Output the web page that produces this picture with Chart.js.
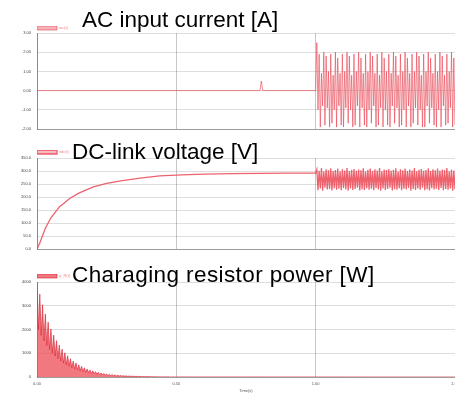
<!DOCTYPE html>
<html>
<head>
<meta charset="utf-8">
<script src="https://cdn.jsdelivr.net/npm/chart.js@4.4.0/dist/chart.umd.min.js"></script>
<style>
  body { margin: 0; background: #fff; }
  #wrap { position: relative; width: 455px; height: 400px; overflow: hidden; }
  .panel { position: absolute; left: 0; width: 455px; }
  .ttl { position: absolute; font: 22.5px "Liberation Sans", Arial, sans-serif; line-height: 22px; color: #000; white-space: nowrap; z-index: 2; }
</style>
</head>
<body>
<div id="wrap">
  <div class="panel" style="top:0;height:134px"><canvas id="acChart"></canvas></div>
  <div class="panel" style="top:134px;height:120px"><canvas id="dcChart"></canvas></div>
  <div class="panel" style="top:254px;height:146px"><canvas id="pwrChart"></canvas></div>
  <div class="ttl" style="left:82px;top:9px">AC input current [A]</div>
  <div class="ttl" style="left:72px;top:141px">DC-link voltage [V]</div>
  <div class="ttl" style="left:72px;top:264px;letter-spacing:0.4px">Charaging resistor power [W]</div>
</div>
<script>
// time axis (s)
const xTicks = [0, 0.5, 1.0, 1.5];

// AC input current [A]: flat until the grid switch at 1.0 s, then the switching waveform
const acTimes = [0, 0.80, 0.805, 0.81, 1.0];
const acValues = [0, 0, 0.5, 0, 0];
const acOscStep = 0.5 / 120;
const acOsc = [
  2.5, -1.0, 1.9, -1.9, 0.9, -0.8, 2.0, -1.8, 1.8, -0.9, 1.0, -1.9, 1.9, -1.7, 0.8, -1.0,
  2.0, -1.9, 1.7, -0.8, 0.9, -1.8, 1.9, -1.9, 1.0, -0.9, 2.0, -1.7, 1.8, -1.0, 0.8, -1.9,
  1.9, -1.8, 1.0, -0.8, 2.0, -1.9, 1.7, -0.9, 0.9, -1.8, 1.9, -1.9, 1.0, -1.0, 2.0, -1.7,
  1.8, -0.8, 0.9, -1.9, 1.9, -1.8, 0.8, -0.9, 2.0, -1.9, 1.7, -1.0, 1.0, -1.8, 1.9, -1.9,
  0.9, -0.8, 2.0, -1.7, 1.8, -0.9, 0.8, -1.9, 1.9, -1.8, 1.0, -1.0, 2.0, -1.9, 1.7, -0.8,
  0.9, -1.9, 1.9, -1.7, 1.0, -0.9, 2.0, -1.8, 1.8, -1.0, 0.8, -1.9, 1.9, -1.9, 1.0, -0.8,
  2.0, -1.7, 1.7, -0.9, 0.9, -1.8, 1.9, -1.9,
  1.0, -1.0, 2.0, -1.9, 1.8, -0.8, 0.8, -1.8, 1.9, -1.7, 1.0, -0.9, 2.0, -1.9, 1.7, -1.8];

// DC-link voltage [V]: charging curve, then ripple band after 1.0 s
const dcTimes = [0, 0.01, 0.03, 0.05, 0.08, 0.12, 0.15, 0.2, 0.25, 0.3, 0.37, 0.44, 0.52, 0.6, 0.7, 0.8, 0.9, 1.0];
const dcValues = [0, 23, 80, 120, 162, 196, 215, 238, 252, 262, 273, 281, 285, 288, 290, 291, 292, 292];
const dcOscStep = 0.5 / 120;
const dcOsc = [
  306, 226, 301, 233, 311, 224, 298, 236, 307, 229, 303, 231, 310, 225, 300, 234,
  304, 228, 309, 232, 299, 226, 307, 235, 302, 229, 311, 224, 300, 233, 305, 227,
  308, 231, 301, 236, 306, 225, 303, 230, 310, 227, 298, 234, 305, 228, 309, 232,
  300, 226, 307, 235, 302, 229, 311, 224, 299, 233, 306, 227, 304, 231, 308, 236,
  301, 225, 305, 230, 310, 228, 298, 234, 307, 226, 303, 232, 309, 229, 300, 235,
  306, 224, 302, 231, 311, 227, 299, 233, 305, 228, 308, 236, 301, 226, 304, 230,
  310, 225, 300, 234, 307, 229, 303, 232,
  309, 227, 301, 235, 306, 226, 304, 231, 311, 228, 299, 233, 305, 224, 302, 230];

// Charging resistor power [W]: pulse peaks every 10 ms, dips in between
const pwrStep = 0.01;
const pwrPeaks = [4000, 3490, 3040, 2650, 2310, 2020, 1760, 1530, 1340, 1170, 1020, 890, 770, 670, 590, 510,
  450, 390, 340, 300, 260, 225, 196, 171, 150, 130, 114, 99, 87, 76, 66, 57, 50, 44, 38, 33,
  29, 25, 22, 19, 17, 15, 13, 11, 10, 8, 7, 6, 5, 5, 4];
const pwrLows = [2000, 1750, 1520, 1330, 1160, 1010, 880, 770, 670, 585, 510, 445, 385, 335, 295, 255,
  225, 195, 170, 150, 130, 113, 98, 86, 75, 65, 57, 50, 44, 38, 33, 29, 25, 22, 19, 17,
  15, 13, 11, 10, 8, 7, 6, 5, 5, 4, 4, 3, 3, 2];
const pwrEnd = 0;

const gridColor = 'rgba(0,0,0,0.13)';
const tickFont = { family: 'Liberation Sans', size: 4 };

// move the small legend down next to the plot, like in the source figure
const legendNudge = {
  id: 'legendNudge',
  afterLayout(chart, args, opts) {
    if (chart.legend) {
      chart.legend.top += opts.shift;
      chart.legend.bottom += opts.shift;
    }
  }
};

function baseOptions(yMin, yMax, yStep, fmt, showX, padTop, padBottom, shift) {
  return {
    responsive: true,
    maintainAspectRatio: false,
    animation: false,
    layout: { padding: { top: padTop, bottom: padBottom, left: 0, right: 0 } },
    elements: { point: { radius: 0 }, line: { tension: 0 } },
    plugins: {
      legend: {
        position: 'top', align: 'start', fullSize: false,
        labels: { boxWidth: 20, boxHeight: 4, padding: 0, color: '#e88', font: tickFont }
      },
      legendNudge: { shift: shift },
      tooltip: { enabled: false }
    },
    scales: {
      x: {
        type: 'linear', min: 0, max: 1.5,
        afterBuildTicks: s => { s.ticks = xTicks.map(v => ({ value: v })); },
        afterFit: s => { s.paddingLeft = 0; s.paddingRight = 0; if (showX) s.height = 16; },
        ticks: { display: showX, color: '#555', font: tickFont, padding: 4, maxRotation: 0,
          callback: v => v.toFixed(2) },
        grid: { color: 'rgba(0,0,0,0.22)', drawTicks: false },
        border: { color: 'rgba(0,0,0,0.3)' },
        title: { display: showX, text: 'Time(s)', color: '#555', font: tickFont, padding: { top: 2, bottom: 0 } }
      },
      y: {
        min: yMin, max: yMax,
        afterFit: s => { s.width = 37; s.paddingTop = 0; s.paddingBottom = 0; },
        ticks: { stepSize: yStep, color: '#444', font: tickFont, padding: 6, callback: fmt },
        grid: { color: gridColor, drawTicks: false },
        border: { color: 'rgba(0,0,0,0.3)' }
      }
    }
  };
}

// AC current
const acPoints = acTimes.map((t, i) => ({ x: t, y: acValues[i] }))
  .concat(acOsc.map((v, i) => ({ x: 1.0 + (i + 1) * acOscStep, y: v })));

new Chart(document.getElementById('acChart'), {
  type: 'line',
  data: {
    datasets: [{
      label: 'iac(t)',
      data: acPoints,
      borderColor: 'rgba(232,70,85,0.7)',
      backgroundColor: 'rgba(240,130,140,0.6)',
      borderWidth: 0.9,
      fill: false
    }]
  },
  options: baseOptions(-2, 3, 1, v => v.toFixed(2), false, 19, 5, 7),
  plugins: [legendNudge]
});

// DC-link voltage
const dcPoints = dcTimes.map((t, i) => ({ x: t, y: dcValues[i] }))
  .concat(dcOsc.map((v, i) => ({ x: 1.0 + (i + 1) * dcOscStep, y: v })));

new Chart(document.getElementById('dcChart'), {
  type: 'line',
  data: {
    datasets: [{
      label: 'vdc(t)',
      data: dcPoints,
      borderColor: 'rgba(235,70,85,0.85)',
      backgroundColor: 'rgba(240,140,150,0.6)',
      borderWidth: 1.3,
      fill: false
    }]
  },
  options: baseOptions(0, 350, 50, v => v.toFixed(1), false, 10, 5, 6),
  plugins: [legendNudge]
});

// Charging resistor power
const pwrPoints = [];
pwrPeaks.forEach((v, i) => {
  pwrPoints.push({ x: i * pwrStep, y: v });
  if (i < pwrLows.length) pwrPoints.push({ x: (i + 0.5) * pwrStep, y: pwrLows[i] });
});
pwrPoints.push({ x: 1.5, y: pwrEnd });

new Chart(document.getElementById('pwrChart'), {
  type: 'line',
  data: {
    datasets: [{
      label: 'p_R(t)',
      data: pwrPoints,
      borderColor: 'rgba(215,35,50,0.9)',
      backgroundColor: 'rgba(238,75,85,0.75)',
      borderWidth: 0.7,
      fill: 'origin'
    }]
  },
  options: baseOptions(0, 4000, 1000, v => v.toFixed(0), true, 14, 7, 6),
  plugins: [legendNudge]
});
</script>
</body>
</html>
